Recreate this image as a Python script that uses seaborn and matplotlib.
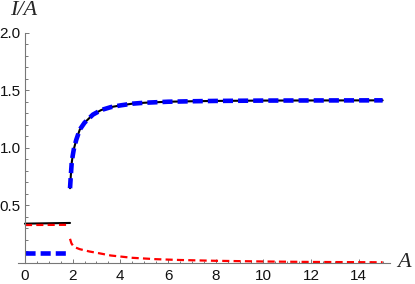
import numpy as np
import pandas as pd
import matplotlib
matplotlib.use("Agg")
import matplotlib.pyplot as plt
import seaborn as sns
from matplotlib.ticker import MultipleLocator, FixedLocator

# valori
x_left = [0.0, 1.89]
black_left = [0.342, 0.348]
red_left = [0.330, 0.332]
blue_left = [0.090, 0.090]

x_rise = [1.89, 1.92, 1.96, 2.0, 2.05, 2.15, 2.3, 2.5, 2.85, 3.2, 3.6, 4.0,
          4.5, 5.0, 6.0, 7.0, 8.0, 10.0, 12.0, 15.0]
y_rise = [0.65, 0.75, 0.87, 0.93, 0.99, 1.07, 1.16, 1.22, 1.29, 1.33, 1.355,
          1.37, 1.385, 1.393, 1.402, 1.406, 1.409, 1.412, 1.413, 1.414]

x_decay = [1.89, 1.95, 2.05, 2.3, 2.7, 3.1, 3.6, 4.5, 5.5, 6.5, 8.0, 10.0,
           12.0, 15.0]
y_decay = [0.21, 0.17, 0.14, 0.12, 0.10, 0.085, 0.065, 0.045, 0.033, 0.026,
           0.019, 0.013, 0.009, 0.006]

x_ticks = [0, 2, 4, 6, 8, 10, 12, 14]
y_ticks = [0.5, 1.0, 1.5, 2.0]

sns.set_theme(style="white")
plt.rcParams['font.family'] = ['Liberation Sans', 'DejaVu Sans']

fig = plt.figure(figsize=(4.15, 2.84), dpi=100)
ax = fig.add_axes([0.0429, 0.074, 0.8964, 0.81])

kw = dict(estimator=None, sort=False, ax=ax)
# curva nera continua
sns.lineplot(x=x_left, y=black_left, color="black", linewidth=1.5, **kw)
sns.lineplot(x=x_rise, y=y_rise, color="black", linewidth=1.5, **kw)
# rossa tratteggiata
sns.lineplot(x=x_left, y=red_left, color="#ff0000", linewidth=1.6,
             linestyle=(0, (3.2, 1.9)), **kw)
sns.lineplot(x=x_decay, y=y_decay, color="#ff0000", linewidth=1.6,
             linestyle=(0, (3.2, 1.9)), **kw)
# blu tratteggiata spessa
sns.lineplot(x=x_left, y=blue_left, color="#0000ff", linewidth=3.3,
             linestyle=(0, (2.2, 1.1)), **kw)
sns.lineplot(x=x_rise, y=y_rise, color="#0000ff", linewidth=3.3,
             linestyle=(0, (2.2, 1.1)), **kw)

ax.set_xlim(-0.3, 15.3)
ax.set_ylim(0, 2.0)
for s in ["top", "right"]:
    ax.spines[s].set_visible(False)
ax.spines["left"].set_position(("data", 0))
for s in ["left", "bottom"]:
    ax.spines[s].set_color("#777777")
    ax.spines[s].set_linewidth(0.8)

ax.xaxis.set_major_locator(FixedLocator(x_ticks))
ax.xaxis.set_minor_locator(MultipleLocator(0.5))
ax.yaxis.set_major_locator(FixedLocator(y_ticks))
ax.yaxis.set_minor_locator(MultipleLocator(0.1))
ax.set_xticklabels([str(t) for t in x_ticks])
ax.set_yticklabels(["%.1f" % t for t in y_ticks])
ax.tick_params(which="both", direction="in", color="#777777", width=0.7,
               labelsize=11, labelcolor="#111111", bottom=True, left=True)
ax.tick_params(which="major", length=3.2, pad=3)
ax.tick_params(which="minor", length=1.8)
ax.tick_params(axis="x", which="major", pad=4)

fig.text(0.024, 0.995, "I/A", fontsize=16, style="italic",
         family=["Liberation Serif", "DejaVu Serif"], va="top")
fig.text(0.958, 0.074, "A", fontsize=16, style="italic",
         family=["Liberation Serif", "DejaVu Serif"], va="center")

fig.savefig("out.png", dpi=100)
